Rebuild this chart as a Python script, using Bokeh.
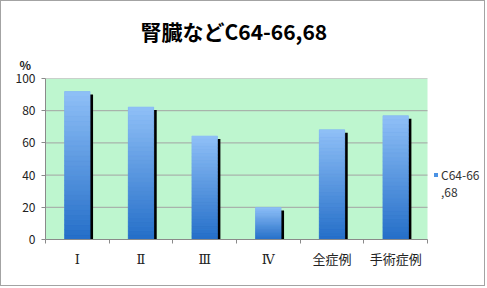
from bokeh.plotting import figure
from bokeh.models import (Range1d, LinearAxis, FixedTicker, Title, Legend, LegendItem,
                          ColumnDataSource, BoxAnnotation)
from bokeh.embed import file_html
from bokeh.resources import INLINE

# ---- data ----
categories = ["Ⅰ", "Ⅱ", "Ⅲ", "Ⅳ", "全症例", "手術症例"]
values = [91.9, 82.3, 64.3, 19.9, 68.1, 76.9]
series_label_lines = ["C64-66", ",68"]
title_text = "腎臓などC64-66,68"
y_ticks = [0, 20, 40, 60, 80, 100]
unit_text = "%"

# ---- style ----
JP = "Noto Sans CJK JP"
XFONT = "'DejaVu Serif', 'Noto Sans CJK JP'"
BAR_W = 0.4
TOP_RGB = (144, 192, 247)
BOT_RGB = (36, 110, 200)
N_SEG = 30
PLOT_PX = 382      # width of the category area in pixels
FRAME_PX = 441     # frame width (category area + legend area)

n = len(categories)
pos = [i + 0.5 for i in range(n)]  # category centres on a 0..n axis
edges = list(range(n + 1))

W, H = 485, 286
p = figure(width=W, height=H, x_range=Range1d(0, n * FRAME_PX / PLOT_PX), y_range=Range1d(0, 100),
           output_backend="svg", toolbar_location=None,
           x_axis_location=None, y_axis_location=None,
           min_border_left=44, min_border_right=0, min_border_top=77, min_border_bottom=48)
p.styles = {"border": "1px solid #a3a3a3"}
p.background_fill_color = "white"
p.border_fill_color = "white"
p.outline_line_color = None
p.xgrid.grid_line_color = None
p.ygrid.grid_line_color = None

# plot area background and gridlines (only over the category area)
p.add_layout(BoxAnnotation(left=0, right=n, bottom=y_ticks[0], top=y_ticks[-1],
                           fill_color="#bef6cf", fill_alpha=1, line_color=None, level="underlay"))
p.segment(x0=[0] * len(y_ticks), x1=[n] * len(y_ticks), y0=y_ticks, y1=y_ticks,
          line_color="#a3a3a3", line_width=1)

# unit label (closest to the frame) and main title
p.add_layout(Title(text=unit_text, align="left", offset=-26, text_font=JP, text_font_size="12px",
                   text_font_style="bold", text_color="#222222", standoff=11), "above")
p.add_layout(Title(text=title_text, align="left", offset=95, text_font=JP, text_font_size="21px",
                   text_font_style="bold", text_color="black", standoff=6), "above")

# y axis
yax = LinearAxis(ticker=FixedTicker(ticks=y_ticks))
yax.axis_line_color = "#8a8a8a"
yax.major_tick_line_color = "#8a8a8a"
yax.major_tick_out = 4
yax.major_tick_in = 0
yax.minor_tick_line_color = None
yax.major_label_text_font = JP
yax.major_label_text_font_size = "12px"
yax.major_label_text_color = "#222222"
yax.major_label_standoff = 6
p.add_layout(yax, "left")

# x edge-tick axis (ticks between categories)
eax = LinearAxis(ticker=FixedTicker(ticks=edges), bounds=(0, n),
                 major_label_overrides={e: "" for e in edges})
eax.axis_line_color = "#8a8a8a"
eax.major_tick_line_color = "#8a8a8a"
eax.major_tick_out = 4
eax.major_tick_in = 0
eax.minor_tick_line_color = None
eax.major_label_text_font_size = "0px"
eax.major_label_standoff = 0
p.add_layout(eax, "below")

# category label axis
cax = LinearAxis(ticker=FixedTicker(ticks=pos),
                 major_label_overrides={pp: c for pp, c in zip(pos, categories)})
cax.axis_line_color = None
cax.major_tick_line_color = None
cax.minor_tick_line_color = None
cax.major_label_text_font = XFONT
cax.major_label_text_font_size = "13px"
cax.major_label_text_color = "#222222"
cax.major_label_standoff = 2
p.add_layout(cax, "below")

# bars
src = ColumnDataSource(dict(x=pos, xs=[x + 0.047 for x in pos], top=values,
                            shadow_top=[v - 1.85 for v in values]))
p.vbar(x="xs", top="shadow_top", width=BAR_W, source=src, fill_color="black", line_color=None)
base = p.vbar(x="x", top="top", width=BAR_W, source=src, fill_color="#4b92e4", line_color=None)
ghost = p.vbar(x="x", top="top", width=BAR_W, source=src, fill_alpha=0, line_alpha=0)

seg = dict(x=[], bottom=[], top=[], color=[])
for x, v in zip(pos, values):
    for k in range(N_SEG):
        t = (k + 0.5) / N_SEG  # 0 bottom -> 1 top
        rgb = tuple(int(round(BOT_RGB[i] + (TOP_RGB[i] - BOT_RGB[i]) * t)) for i in range(3))
        seg["x"].append(x)
        seg["bottom"].append(v * k / N_SEG)
        seg["top"].append(v * (k + 1) / N_SEG)
        seg["color"].append("#%02x%02x%02x" % rgb)
p.vbar(x="x", bottom="bottom", top="top", width=BAR_W, source=ColumnDataSource(seg),
       fill_color="color", line_color="color", line_width=0.6)

# legend (series name wrapped over two lines, marker on the first)
leg = Legend(items=[LegendItem(label=series_label_lines[0], renderers=[base]),
                    LegendItem(label=series_label_lines[1], renderers=[ghost])],
             location=(388, 39),
             padding=0, margin=0, spacing=0, border_line_color=None, background_fill_alpha=0,
             glyph_width=5, glyph_height=5, label_standoff=3, label_height=16,
             label_text_font=JP, label_text_font_size="12px", label_text_color="#333333")
p.add_layout(leg)

open("out.html", "w").write(file_html(p, INLINE))
